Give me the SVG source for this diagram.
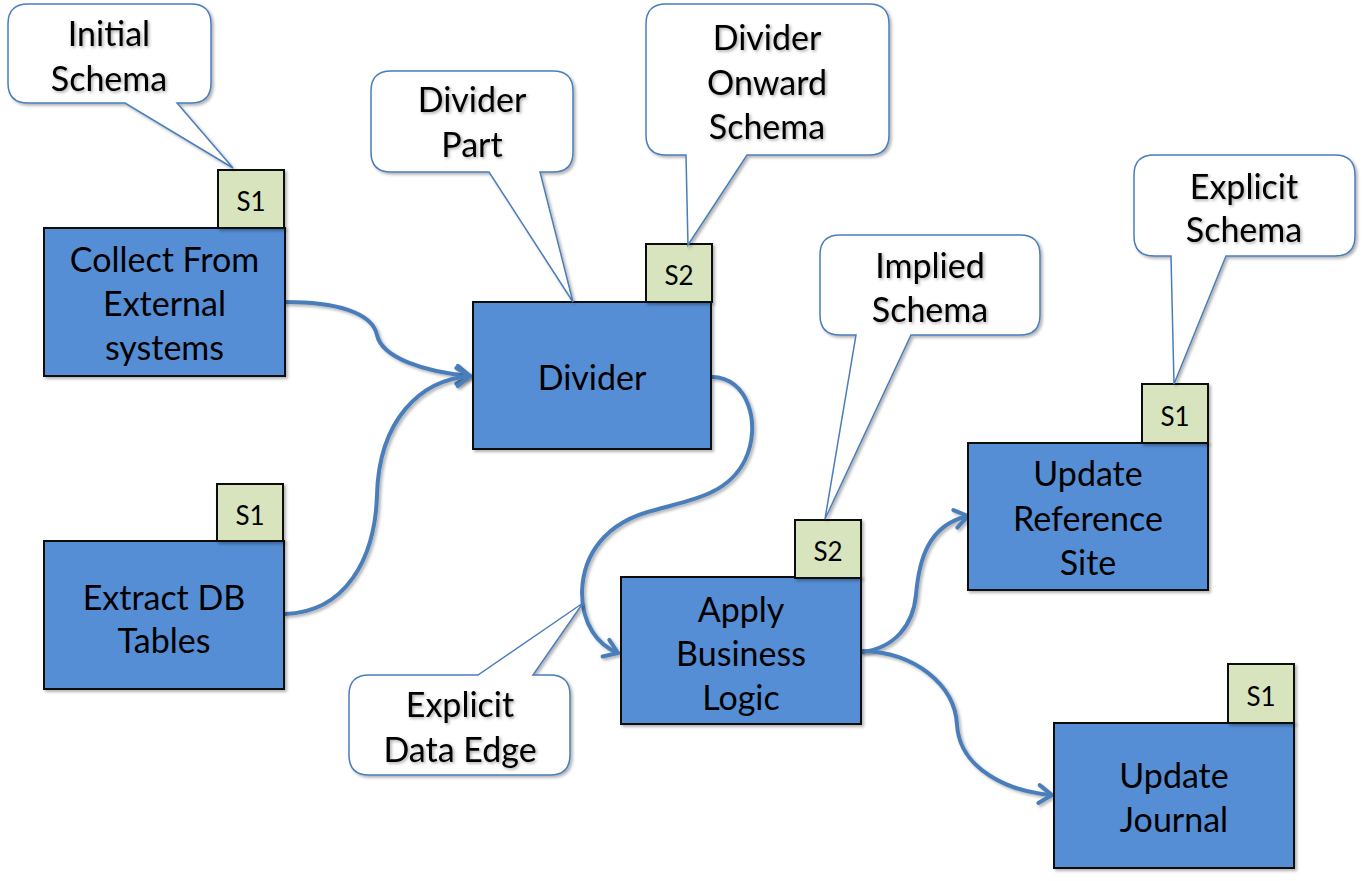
<svg xmlns="http://www.w3.org/2000/svg" width="1363" height="881" viewBox="0 0 1363 881">
  <defs>
    <style>
      .box { fill: #558ed5; stroke: #111; stroke-width: 2; filter: url(#shadow); }
      .tag { fill: #d7e4bd; stroke: #111; stroke-width: 2; filter: url(#shadow); }
      .callout { fill: #fff; stroke: #4a7ebb; stroke-width: 1.5; stroke-linejoin: miter; filter: url(#shadow); }
      .label { font-family: Lato, "Open Sans", sans-serif; font-size: 34px; fill: #000; text-anchor: middle; }
      .note { font-family: Lato, "Open Sans", sans-serif; font-size: 34px; fill: #000; text-anchor: middle; filter: url(#textshadow); }
      .tagtext { font-family: Lato, "Open Sans", sans-serif; font-size: 26px; fill: #000; text-anchor: middle; }
      .edge { fill: none; stroke: #4a7ebb; stroke-width: 4; stroke-linecap: round; filter: url(#shadow); }
    </style>
    <filter id="shadow" x="-10%" y="-10%" width="130%" height="130%">
      <feDropShadow dx="2" dy="2" stdDeviation="1.8" flood-color="#000" flood-opacity="0.3"/>
    </filter>
    <filter id="textshadow" x="-10%" y="-20%" width="130%" height="150%">
      <feDropShadow dx="1.5" dy="1.5" stdDeviation="1.5" flood-color="#000" flood-opacity="0.35"/>
    </filter>
    <marker id="arrow" viewBox="-20 -15 30 30" markerWidth="30" markerHeight="30" refX="0" refY="0" orient="auto" markerUnits="userSpaceOnUse">
      <path d="M-13,-9 L0,0 L-13,9" fill="none" stroke="#4a7ebb" stroke-width="4" stroke-linecap="round" stroke-linejoin="round"/>
    </marker>
  </defs>

  <rect width="1363" height="881" fill="#fff"/>

  <!-- data edges -->
  <g id="connectors">
    <path class="edge" d="M285,302 C335,302 372,312 377,335 C382,358 425,372 470,376" marker-end="url(#arrow)"/>
    <path class="edge" d="M285,614 C345,612 375,560 377,495 C379,420 420,380 470,376" marker-end="url(#arrow)"/>
    <path class="edge" d="M712,377 C748,377 762,425 745,460 C728,495 690,500 655,510 C605,522 583,555 582,592 C582,625 598,645 618,653" marker-end="url(#arrow)"/>
    <path class="edge" d="M862,652 C895,648 913,625 916,595 C919,560 928,525 968,516" marker-end="url(#arrow)"/>
    <path class="edge" d="M862,651 C915,652 955,685 957,725 C960,770 1010,792 1052,795" marker-end="url(#arrow)"/>
  </g>

  <!-- process nodes with schema tags -->
  <g id="collect">
    <rect class="box" x="44" y="228" width="241" height="148"/>
    <rect class="tag" x="218" y="170" width="66" height="58"/>
    <text class="tagtext" x="251" y="211">S1</text>
    <text class="label" x="164.5" y="272">Collect From</text>
    <text class="label" x="164.5" y="316">External</text>
    <text class="label" x="164.5" y="360">systems</text>
  </g>

  <g id="extract">
    <rect class="box" x="44" y="541" width="240" height="148"/>
    <rect class="tag" x="217" y="484" width="66" height="57"/>
    <text class="tagtext" x="250" y="525">S1</text>
    <text class="label" x="164" y="610">Extract DB</text>
    <text class="label" x="164" y="653">Tables</text>
  </g>

  <g id="divider">
    <rect class="box" x="473" y="302" width="238" height="147"/>
    <rect class="tag" x="646" y="244" width="66" height="58"/>
    <text class="tagtext" x="679" y="285">S2</text>
    <text class="label" x="592" y="390">Divider</text>
  </g>

  <g id="apply">
    <rect class="box" x="621" y="577" width="240" height="147"/>
    <rect class="tag" x="795" y="520" width="66" height="58"/>
    <text class="tagtext" x="828" y="561">S2</text>
    <text class="label" x="741" y="622">Apply</text>
    <text class="label" x="741" y="666">Business</text>
    <text class="label" x="741" y="710">Logic</text>
  </g>

  <g id="update-reference">
    <rect class="box" x="968" y="443" width="240" height="147"/>
    <rect class="tag" x="1142" y="384" width="66" height="59"/>
    <text class="tagtext" x="1175" y="426">S1</text>
    <text class="label" x="1088" y="486">Update</text>
    <text class="label" x="1088" y="531">Reference</text>
    <text class="label" x="1088" y="575">Site</text>
  </g>

  <g id="update-journal">
    <rect class="box" x="1054" y="723" width="240" height="145"/>
    <rect class="tag" x="1228" y="664" width="66" height="59"/>
    <text class="tagtext" x="1261" y="706">S1</text>
    <text class="label" x="1174" y="788">Update</text>
    <text class="label" x="1174" y="832">Journal</text>
  </g>

  <!-- annotation callouts -->
  <g id="note-initial-schema">
    <path class="callout" d="M28,4 H191 Q211,4 211,24 V83 Q211,103 191,103 H177 L233,168 L125,103 H28 Q8,103 8,83 V24 Q8,4 28,4 Z"/>
    <text class="note" x="109" y="46">Initial</text>
    <text class="note" x="109" y="91">Schema</text>
  </g>

  <g id="note-divider-part">
    <path class="callout" d="M391,71 H553 Q573,71 573,91 V152 Q573,172 553,172 H540 L573,302 L489,172 H391 Q371,172 371,152 V91 Q371,71 391,71 Z"/>
    <text class="note" x="472" y="112">Divider</text>
    <text class="note" x="472" y="157">Part</text>
  </g>

  <g id="note-divider-onward">
    <path class="callout" d="M666,4 H869 Q889,4 889,24 V135 Q889,155 869,155 H747 L688,245 L686,155 H666 Q646,155 646,135 V24 Q646,4 666,4 Z"/>
    <text class="note" x="767" y="50">Divider</text>
    <text class="note" x="767" y="95">Onward</text>
    <text class="note" x="767" y="139">Schema</text>
  </g>

  <g id="note-implied-schema">
    <path class="callout" d="M840,235 H1020 Q1040,235 1040,255 V315 Q1040,335 1020,335 H911 L825,519 L856,335 H840 Q820,335 820,315 V255 Q820,235 840,235 Z"/>
    <text class="note" x="930" y="278">Implied</text>
    <text class="note" x="930" y="322">Schema</text>
  </g>

  <g id="note-explicit-schema">
    <path class="callout" d="M1154,155 H1335 Q1355,155 1355,175 V236 Q1355,256 1335,256 H1226 L1174,384 L1171,256 H1154 Q1134,256 1134,236 V175 Q1134,155 1154,155 Z"/>
    <text class="note" x="1244" y="199">Explicit</text>
    <text class="note" x="1244" y="242">Schema</text>
  </g>

  <g id="note-explicit-edge">
    <path class="callout" d="M369,675 H478 L583,603 L533,675 H550 Q570,675 570,695 V755 Q570,775 550,775 H369 Q349,775 349,755 V695 Q349,675 369,675 Z"/>
    <text class="note" x="460" y="717">Explicit</text>
    <text class="note" x="460" y="762">Data Edge</text>
  </g>
</svg>
